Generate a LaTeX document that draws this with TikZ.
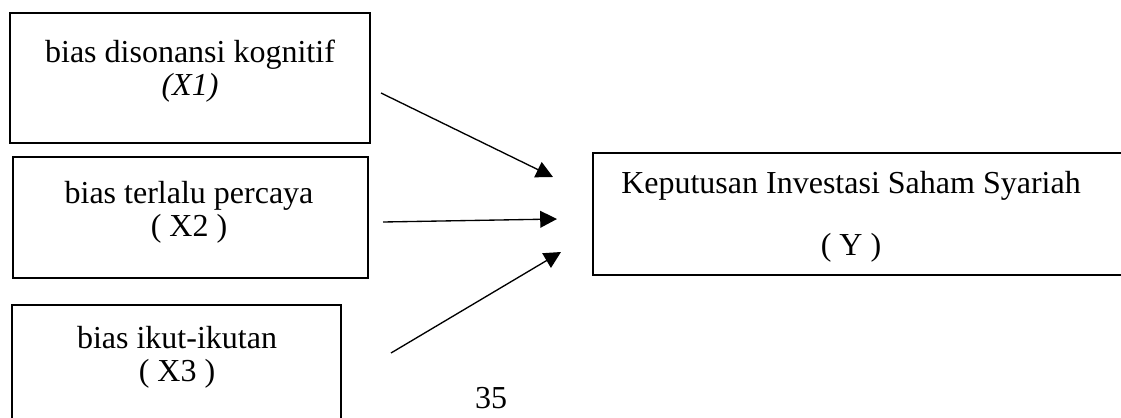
\documentclass[tikz,border=0pt]{standalone}
\usepackage{fontspec}
\setmainfont{Liberation Serif}
\usetikzlibrary{arrows.meta}

\begin{document}
\begin{tikzpicture}[x=0.375pt, y=-0.375pt,
  box/.style={draw, line width=0.7pt, inner sep=0pt},
  lbl/.style={align=center, inner sep=0pt, font=\fontsize{12}{12.5}\selectfont},
  arr/.style={line width=0.5pt, -{Triangle[length=6.3pt, width=6.3pt]}}]
\useasboundingbox (0,0) rectangle (1121,417);
\clip (0,0) rectangle (1121,417);
% boxes
\node[box, minimum width=135pt, minimum height=48.75pt] (x1) at (190,78) {};
\node[box, minimum width=133.1pt, minimum height=45.4pt] (x2) at (190.5,217.5) {};
\node[box, minimum width=123.4pt, minimum height=46.9pt] (x3) at (176.5,367.5) {};
\node[box, minimum width=203.3pt, minimum height=45.8pt] (y) at (864,214) {};
% texts
\node[lbl] (x1t) at (190,71) {bias disonansi kognitif\\\textit{(X1)}};
\node[lbl] (x2t) at (189,212) {bias terlalu percaya\\( X2 )};
\node[lbl] (x3t) at (177,357.5) {bias ikut-ikutan\\( X3 )};
\node[lbl, font=\fontsize{12}{23.25}\selectfont] (yt) at (851,217) {Keputusan Investasi Saham Syariah\\( Y )};
\node[lbl] (pg) at (491,398) {35};
% arrows
\coordinate (s1) at (381,93);
\coordinate (e1) at (553,177);
\coordinate (s2) at (383,222);
\coordinate (e2) at (557,219);
\coordinate (s3) at (391,353);
\coordinate (e3) at (561,252);
\draw[arr] (s1) -- (e1);
\draw[arr] (s2) -- (e2);
\draw[arr] (s3) -- (e3);
\end{tikzpicture}
\end{document}
